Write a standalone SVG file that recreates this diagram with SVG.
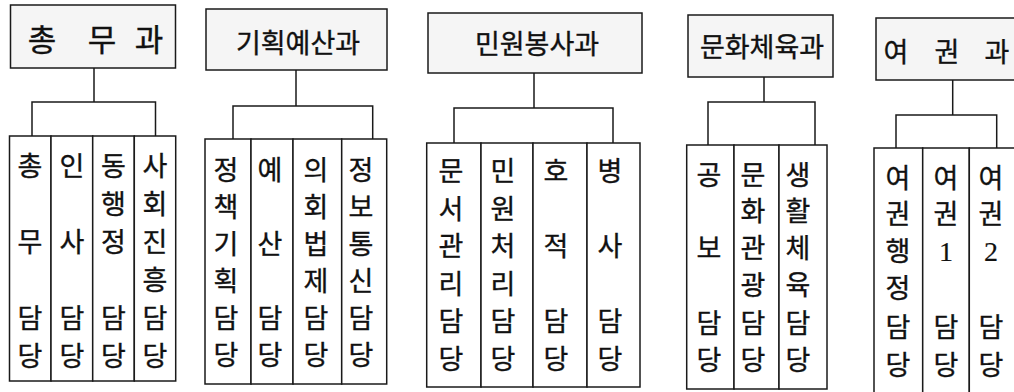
<svg xmlns="http://www.w3.org/2000/svg" width="1014" height="392" viewBox="0 0 1014 392">
<style>
  .dept { fill: #f5f5f5; stroke: #1a1a1a; stroke-width: 1.5; }
  .team { fill: #ffffff; stroke: #1a1a1a; stroke-width: 1.5; }
  .ln { fill: none; stroke: #1a1a1a; stroke-width: 1.5; }
  text { font-family: "Noto Sans CJK KR", "Noto Sans", sans-serif; fill: #111; stroke: #111; stroke-width: 0.35; text-anchor: middle; }
  .t { font-size: 27px; }
  .h1 { font-size: 31px; }
  .h { font-size: 27px; }
  .dig { font-family: "Liberation Serif", "DejaVu Serif", serif; font-size: 28px; stroke-width: 0.2; }
</style>
<rect x="0" y="0" width="1014" height="392" fill="#ffffff"/>

<g id="connectors">
  <path class="ln" d="M94 68 V102 M32 136 V102 H155.5 V136"/>
  <path class="ln" d="M296 70 V106 M233 139 V106 H372.7 V139"/>
  <path class="ln" d="M534 73 V108 M454 143 V108 H613 V143"/>
  <path class="ln" d="M764 77 V102 M708 145 V102 H815 V145"/>
  <path class="ln" d="M952.7 80 V115 M896 148 V115 H996.7 V148"/>
</g>

<g id="dept-chongmu">
  <rect class="dept" x="10.5" y="5" width="165" height="63"/>
  <text class="h1" x="42 72 102 125 149" y="51">총 무 과</text>
</g>
<g id="dept-gihoek">
  <rect class="dept" x="206" y="9" width="181" height="61"/>
  <text class="h" x="298" y="53">기획예산과</text>
</g>
<g id="dept-minwon">
  <rect class="dept" x="428" y="13" width="214" height="60"/>
  <text class="h" x="537" y="54">민원봉사과</text>
</g>
<g id="dept-munhwa">
  <rect class="dept" x="688" y="15" width="145" height="62"/>
  <text class="h" x="762" y="57">문화체육과</text>
</g>
<g id="dept-yeokwon">
  <rect class="dept" x="876" y="18" width="150" height="62"/>
  <text class="h" x="896 921 947 972 997" y="62">여 권 과</text>
</g>

<!-- 총무과 teams -->
<g id="team-chongmu">
  <rect class="team" x="9.5" y="136" width="41.5" height="245"/>
  <text class="t"><tspan x="30" y="176">총</tspan><tspan x="30" y="252">무</tspan><tspan x="30" y="328">담</tspan><tspan x="30" y="366">당</tspan></text>
</g>
<g id="team-insa">
  <rect class="team" x="51" y="136" width="41.7" height="245"/>
  <text class="t"><tspan x="72" y="176">인</tspan><tspan x="72" y="252">사</tspan><tspan x="72" y="328">담</tspan><tspan x="72" y="366">당</tspan></text>
</g>
<g id="team-donghaengjeong">
  <rect class="team" x="92.7" y="136" width="41.6" height="245"/>
  <text class="t"><tspan x="113.5" y="176">동</tspan><tspan x="113.5" y="214">행</tspan><tspan x="113.5" y="252">정</tspan><tspan x="113.5" y="328">담</tspan><tspan x="113.5" y="366">당</tspan></text>
</g>
<g id="team-sahoe">
  <rect class="team" x="134.3" y="136" width="41.4" height="245"/>
  <text class="t"><tspan x="155" y="176">사</tspan><tspan x="155" y="214">회</tspan><tspan x="155" y="252">진</tspan><tspan x="155" y="290">흥</tspan><tspan x="155" y="328">담</tspan><tspan x="155" y="366">당</tspan></text>
</g>

<!-- 기획예산과 teams -->
<g id="team-jeongchaek">
  <rect class="team" x="205" y="139" width="46" height="245"/>
  <text class="t"><tspan x="226" y="180">정</tspan><tspan x="226" y="217">책</tspan><tspan x="226" y="254">기</tspan><tspan x="226" y="291">획</tspan><tspan x="226" y="328">담</tspan><tspan x="226" y="365">당</tspan></text>
</g>
<g id="team-yesan">
  <rect class="team" x="251" y="139" width="42" height="245"/>
  <text class="t"><tspan x="270" y="180">예</tspan><tspan x="270" y="254">산</tspan><tspan x="270" y="328">담</tspan><tspan x="270" y="365">당</tspan></text>
</g>
<g id="team-uihoe">
  <rect class="team" x="293" y="139" width="48.7" height="245"/>
  <text class="t"><tspan x="316" y="180">의</tspan><tspan x="316" y="217">회</tspan><tspan x="316" y="254">법</tspan><tspan x="316" y="291">제</tspan><tspan x="316" y="328">담</tspan><tspan x="316" y="365">당</tspan></text>
</g>
<g id="team-jeongbo">
  <rect class="team" x="341.7" y="139" width="45" height="245"/>
  <text class="t"><tspan x="361" y="180">정</tspan><tspan x="361" y="217">보</tspan><tspan x="361" y="254">통</tspan><tspan x="361" y="291">신</tspan><tspan x="361" y="328">담</tspan><tspan x="361" y="365">당</tspan></text>
</g>

<!-- 민원봉사과 teams -->
<g id="team-munseo">
  <rect class="team" x="426.7" y="143" width="54.3" height="244"/>
  <text class="t"><tspan x="451" y="181">문</tspan><tspan x="451" y="218.5">서</tspan><tspan x="451" y="256">관</tspan><tspan x="451" y="293.5">리</tspan><tspan x="451" y="331">담</tspan><tspan x="451" y="368.5">당</tspan></text>
</g>
<g id="team-minwon">
  <rect class="team" x="481" y="143" width="52" height="244"/>
  <text class="t"><tspan x="503" y="181">민</tspan><tspan x="503" y="218.5">원</tspan><tspan x="503" y="256">처</tspan><tspan x="503" y="293.5">리</tspan><tspan x="503" y="331">담</tspan><tspan x="503" y="368.5">당</tspan></text>
</g>
<g id="team-hojeok">
  <rect class="team" x="533" y="143" width="54" height="244"/>
  <text class="t"><tspan x="556" y="181">호</tspan><tspan x="556" y="256">적</tspan><tspan x="556" y="331">담</tspan><tspan x="556" y="368.5">당</tspan></text>
</g>
<g id="team-byeongsa">
  <rect class="team" x="587" y="143" width="53" height="244"/>
  <text class="t"><tspan x="610" y="181">병</tspan><tspan x="610" y="256">사</tspan><tspan x="610" y="331">담</tspan><tspan x="610" y="368.5">당</tspan></text>
</g>

<!-- 문화체육과 teams -->
<g id="team-gongbo">
  <rect class="team" x="686.7" y="145" width="47.3" height="244"/>
  <text class="t"><tspan x="709" y="185">공</tspan><tspan x="709" y="258">보</tspan><tspan x="709" y="333">담</tspan><tspan x="709" y="370">당</tspan></text>
</g>
<g id="team-munhwagwangwang">
  <rect class="team" x="734" y="145" width="45" height="244"/>
  <text class="t"><tspan x="753" y="185">문</tspan><tspan x="753" y="221">화</tspan><tspan x="753" y="258">관</tspan><tspan x="753" y="295">광</tspan><tspan x="753" y="333">담</tspan><tspan x="753" y="370">당</tspan></text>
</g>
<g id="team-saenghwal">
  <rect class="team" x="779" y="145" width="48" height="244"/>
  <text class="t"><tspan x="798" y="185">생</tspan><tspan x="798" y="221">활</tspan><tspan x="798" y="258">체</tspan><tspan x="798" y="295">육</tspan><tspan x="798" y="333">담</tspan><tspan x="798" y="370">당</tspan></text>
</g>

<!-- 여권과 teams -->
<g id="team-yeokwonhaengjeong">
  <rect class="team" x="874" y="148" width="48.7" height="260"/>
  <text class="t"><tspan x="898" y="188">여</tspan><tspan x="898" y="224">권</tspan><tspan x="898" y="261">행</tspan><tspan x="898" y="298">정</tspan><tspan x="898" y="337">담</tspan><tspan x="898" y="375">당</tspan></text>
</g>
<g id="team-yeokwon1">
  <rect class="team" x="922.7" y="148" width="46.6" height="260"/>
  <text class="t"><tspan x="946" y="188">여</tspan><tspan x="946" y="224">권</tspan><tspan class="dig" x="946" y="261">1</tspan><tspan x="946" y="337">담</tspan><tspan x="946" y="375">당</tspan></text>
</g>
<g id="team-yeokwon2">
  <rect class="team" x="969.3" y="148" width="47" height="260"/>
  <text class="t"><tspan x="991" y="188">여</tspan><tspan x="991" y="224">권</tspan><tspan class="dig" x="991" y="261">2</tspan><tspan x="991" y="337">담</tspan><tspan x="991" y="375">당</tspan></text>
</g>
</svg>
